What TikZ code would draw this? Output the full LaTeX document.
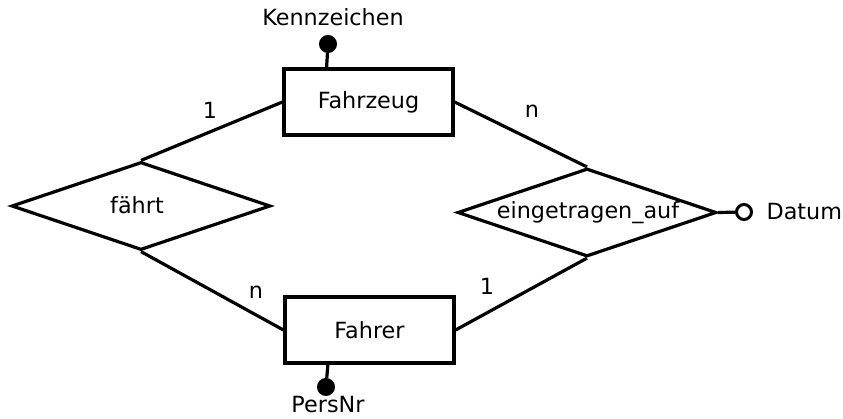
\documentclass[tikz,border=0pt]{standalone}
\usepackage{fontspec}
\setmainfont{DejaVu Sans}
\usetikzlibrary{shapes.geometric}
\begin{document}
\begin{tikzpicture}[x=1pt,y=-1pt,line width=3.2pt,
  entity/.style={draw,rectangle,minimum width=169pt,minimum height=66pt,inner sep=0pt},
  relation/.style={draw,diamond,aspect=2.94,minimum width=259pt,minimum height=88pt,inner sep=0pt},
  keydot/.style={draw,circle,fill=black,minimum size=16pt,inner sep=0pt,line width=2pt},
  attrcirc/.style={draw,circle,fill=white,minimum size=15pt,inner sep=0pt,line width=3pt},
  lbl/.style={inner sep=0pt},
  every node/.append style={font=\fontsize{22.3}{26}\selectfont}]
\useasboundingbox (0,0) rectangle (843,418);
\node[entity] (fz) at (368.5,102) {Fahrzeug};
\node[entity] (fa) at (369.5,330) {Fahrer};
\node[relation] (fh) at (141,206) {};
\node[lbl] (fht) at (137,205) {fährt};
\node[relation] (ea) at (587,212.5) {};
\node[lbl] (eat) at (588,213) {eingetragen\_auf};
\draw (fh.north) -- (fz.west);
\draw (fh.south) -- (fa.west);
\draw (fz.east) -- (ea.north);
\draw (ea.south) -- (fa.east);
% attributes
\node[keydot] (kz) at (328,44) {};
\coordinate (kzb) at (326.5,69);
\draw (kzb) -- (kz);
\node[lbl] (kzt) at (333,17) {Kennzeichen};
\node[keydot] (pn) at (326,387) {};
\coordinate (pnt) at (328,363);
\draw (pnt) -- (pn);
\node[lbl] (pnl) at (328,405) {PersNr};
\node[attrcirc] (dt) at (744,212) {};
\draw (ea.east) -- (dt);
\node[lbl,anchor=west] (dtl) at (765,212) {Datum};
% cardinalities
\node[lbl] (c1) at (210,110) {1};
\node[lbl] (c2) at (532,111) {n};
\node[lbl] (c3) at (256,292) {n};
\node[lbl] (c4) at (487,286) {1};
\end{tikzpicture}
\end{document}
